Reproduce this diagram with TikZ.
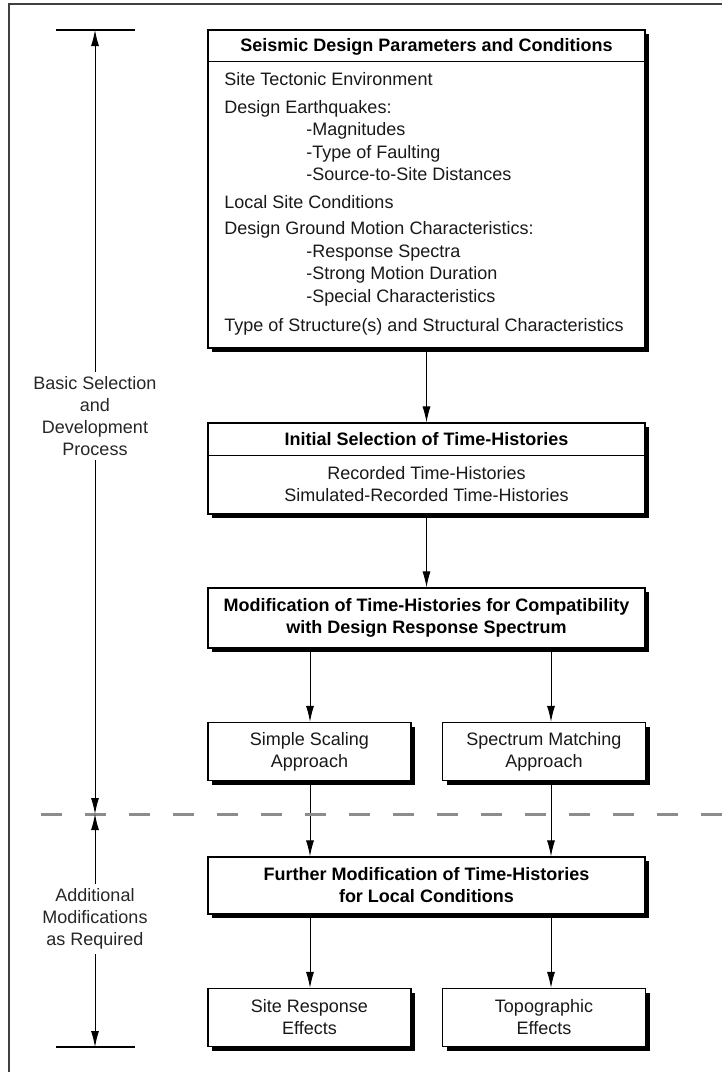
\documentclass[tikz,border=0pt]{standalone}
\usepackage{fontspec}
\setmainfont{Liberation Sans}
\usetikzlibrary{arrows.meta,shadows}

\tikzset{
  box/.style={draw, line width=1.2pt, fill=white, inner sep=0pt, align=center,
    drop shadow={shadow xshift=4pt, shadow yshift=-4pt, fill=black, opacity=1},
    font=\fontsize{18}{22}\selectfont, text=black!90},
  wide/.style={box, minimum width=437pt},
  half/.style={box, minimum width=203pt, minimum height=58pt},
  bold/.style={font=\fontsize{18}{22}\selectfont\bfseries, text=black},
  head/.style={bold, align=center, inner sep=0pt},
  item/.style={font=\fontsize{18}{22}\selectfont, text=black!90, anchor=base west, inner sep=0pt},
  side/.style={font=\fontsize{18}{22}\selectfont, text=black!85, align=center, inner sep=4pt},
  bar/.style={line width=1.8pt},
  divider/.style={line width=3pt, black!45, dash pattern=on 21pt off 23pt},
}

\begin{document}
\begin{tikzpicture}[>={Latex[length=16pt,width=8pt]}, x=1pt, y=-1pt, line width=0.9pt]
\useasboundingbox (0,0) rectangle (722,1072);
%frame
\draw[line width=1.5pt, black!75] (9,1072) -- (9,4) -- (722,4);
%columns of the arrows
\coordinate (lcol) at (310,0);
\coordinate (rcol) at (551,0);
%design parameters
\node[wide, minimum height=318pt] (params) at (426.5,189) {};
\node[head] (paramshead) at (426.5,47) {Seismic Design Parameters and Conditions};
\draw[line width=1.2pt] ([yshift=-32pt]params.north west) -- ([yshift=-32pt]params.north east);
\foreach \x/\y/\t [count=\i] in {224/85/Site Tectonic Environment,
    224/113/Design Earthquakes:, 306/135/-Magnitudes, 306/158/-Type of Faulting,
    306/180/-Source-to-Site Distances, 224/208/Local Site Conditions,
    224/234/Design Ground Motion Characteristics:, 306/257/-Response Spectra,
    306/279/-Strong Motion Duration, 306/302/-Special Characteristics,
    224/331/Type of Structure(s) and Structural Characteristics}
  \node[item] (item\i) at (\x,\y) {\t};
%initial selection
\node[wide, minimum height=91pt] (select) at (426.5,468.5) {};
\node[head] (selecthead) at (426.5,439) {Initial Selection of Time-Histories};
\draw[line width=1.2pt] ([yshift=-33pt]select.north west) -- ([yshift=-33pt]select.north east);
\node[font=\fontsize{18}{22}\selectfont, text=black!90, align=center] (selectlist)
  at (426.5,484) {Recorded Time-Histories\\Simulated-Recorded Time-Histories};
%modification
\node[wide, minimum height=60pt, bold] (modify) at (426.5,618)
  {Modification of Time-Histories for Compatibility\\with Design Response Spectrum};
\node[half] (scaling) at (309.5,751.5) {Simple Scaling\\Approach};
\node[half] (matching) at (544,751.5) {Spectrum Matching\\Approach};
%local conditions
\node[wide, minimum height=57pt, bold] (further) at (426.5,885.5)
  {Further Modification of Time-Histories\\for Local Conditions};
\node[half] (siteresp) at (309.5,1017.5) {Site Response\\Effects};
\node[half] (topo) at (544,1017.5) {Topographic\\Effects};
%links
\draw[->] (params) -- (select);
\draw[->] (select) -- (modify);
\foreach \c/\a/\b in {lcol/modify/scaling, rcol/modify/matching,
    lcol/scaling/further, rcol/matching/further,
    lcol/further/siteresp, rcol/further/topo}
  \draw[->] (\c |- \a.south) -- (\c |- \b.north);
%dividing line
\draw[divider] (41,814) -- (722,814);
%process brackets
\coordinate (topbar) at (95,30);
\coordinate (midbar) at (95,814);
\coordinate (botbar) at (95,1047);
\draw[bar] ([xshift=-39pt]topbar) -- ([xshift=40pt]topbar);
\draw[bar] ([xshift=-39pt]botbar) -- ([xshift=40pt]botbar);
\node[side] (basic) at (95,416) {Basic Selection\\and\\Development\\Process};
\node[side] (extra) at (95,919) {Additional\\Modifications\\as Required};
\draw[->] (basic) -- (topbar);
\draw[->] (basic) -- (midbar);
\draw[->] (extra) -- (midbar);
\draw[->] (extra) -- (botbar);
\end{tikzpicture}
\end{document}
